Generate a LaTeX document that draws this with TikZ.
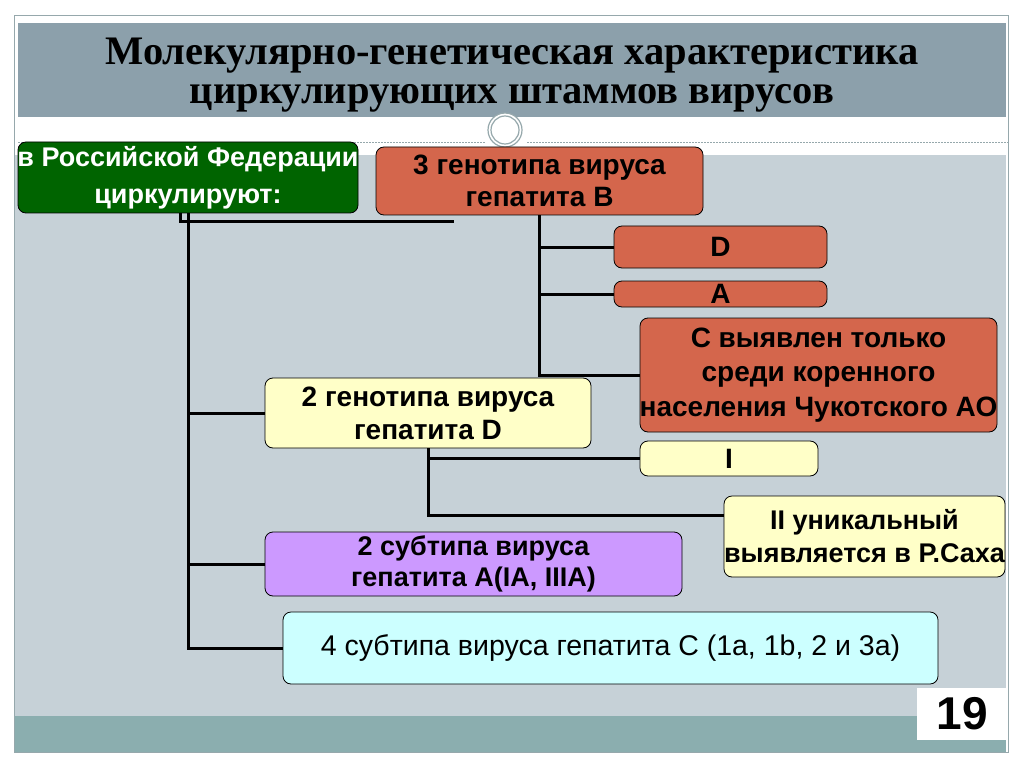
\documentclass[tikz,border=0pt]{standalone}
\usepackage{fontspec}
\setmainfont{Liberation Sans}
\newfontfamily\titlefont{Liberation Serif}
\definecolor{bandgray}{RGB}{140,160,171}
\definecolor{panelgray}{RGB}{198,209,215}
\definecolor{teal}{RGB}{139,174,175}
\definecolor{rimgray}{RGB}{150,168,172}
\definecolor{dkgreen}{RGB}{0,100,0}
\definecolor{brick}{RGB}{212,102,76}
\definecolor{lyellow}{RGB}{255,255,200}
\definecolor{lilac}{RGB}{204,153,255}
\definecolor{lcyan}{RGB}{204,255,255}
\newcommand\ctr[1]{\makebox[0pt]{#1}}
\begin{document}
\begin{tikzpicture}[x=1pt,y=-1pt,
  box/.style={draw=black, line width=0.8pt, rounded corners=8pt, align=center, inner sep=0pt},
  bf/.style={font=\bfseries\fontsize{28}{33}\selectfont},
  conn/.style={draw=black, line width=3pt}]
\useasboundingbox (0,0) rectangle (1024,767);
\fill[white] (0,0) rectangle (1024,767);
% slide frame
\fill[panelgray] (15,155) rectangle (1006,716);
\fill[teal] (15,716) rectangle (1006,752);
\draw[rimgray, line width=0.8pt] (14,15) rectangle (1008,752);
\fill[bandgray] (18,23) rectangle (1006,117);
\draw[rimgray, line width=0.6pt, dash pattern=on 2pt off 1pt] (18,142) -- (485,142);
\draw[rimgray, line width=0.6pt, dash pattern=on 2pt off 1pt] (527,142) -- (1008,142);
\filldraw[fill=white, draw=rimgray, line width=1.2pt] (505,130) circle (17);
\draw[rimgray, line width=1.2pt] (505,130) circle (14);
% title
\node[align=center, font=\titlefont\bfseries\fontsize{40.5}{39}\selectfont] (title) at (512,75)
  {Молекулярно-генетическая характеристика\\циркулирующих штаммов вирусов};
% nodes
\node[box, fill=dkgreen, text=white, font=\bfseries\fontsize{27}{37}\selectfont, minimum width=340, minimum height=71] (rf) at (188,177.5)
  {\ctr{в Российской Федерации}\\\ctr{циркулируют:}};
\node[box, fill=brick, font=\bfseries\fontsize{28}{32}\selectfont, minimum width=327, minimum height=68] (rb) at (539.5,181)
  {\ctr{3 генотипа вируса}\\\ctr{гепатита В}};
\node[box, bf, fill=brick, minimum width=213, minimum height=42] (d) at (720.5,247) {D};
\node[box, bf, fill=brick, minimum width=213, minimum height=26] (a) at (720.5,294) {A};
\node[box, fill=brick, font=\bfseries\fontsize{28}{34.5}\selectfont, minimum width=357, minimum height=114] (c) at (818.5,375)
  {\ctr{С выявлен только}\\\ctr{среди коренного}\\\ctr{населения Чукотского АО}};
\node[box, bf, fill=lyellow, minimum width=326, minimum height=70] (gd) at (428,413)
  {\ctr{2 генотипа вируса}\\\ctr{гепатита D}};
\node[box, bf, fill=lyellow, minimum width=178, minimum height=35] (i) at (729,458.5) {I};
\node[box, fill=lyellow, font=\bfseries\fontsize{27}{33}\selectfont, minimum width=281, minimum height=81] (ii) at (864.5,536.5)
  {\ctr{II уникальный}\\\ctr{выявляется в Р.Саха}};
\node[box, fill=lilac, font=\bfseries\fontsize{27}{31}\selectfont, minimum width=417, minimum height=64] (ga) at (473.5,564)
  {\ctr{2 субтипа вируса}\\\ctr{гепатита А(IA, IIIA)}};
\node[box, fill=lcyan, font=\fontsize{28.5}{30}\selectfont, minimum width=655, minimum height=72] (gc) at (610.5,648)
  {\ctr{4 субтипа вируса гепатита С (1a, 1b, 2 и 3a)}};
\node[fill=white, minimum width=90, minimum height=52, inner sep=0pt, font=\bfseries\fontsize{46}{46}\selectfont] (num) at (962,714) {19};
% connectors
\coordinate (b1) at (180,213);
\coordinate (b2) at (454,222);
\draw[conn] (b1) |- (b2);
\draw[conn] (rf.south) -- (rf.south |- gc.west) -- (gc.west);
\draw[conn] (rf.south |- gd.west) -- (gd.west);
\draw[conn] (rf.south |- ga.west) -- (ga.west);
\draw[conn] (rb.south) -- (rb.south |- c.west) -- (c.west);
\draw[conn] (rb.south |- d.west) -- (d.west);
\draw[conn] (rb.south |- a.west) -- (a.west);
\draw[conn] (gd.south) |- ([yshift=21.5pt]ii.west);
\draw[conn] (gd.south |- i.west) -- (i.west);
\end{tikzpicture}
\end{document}
